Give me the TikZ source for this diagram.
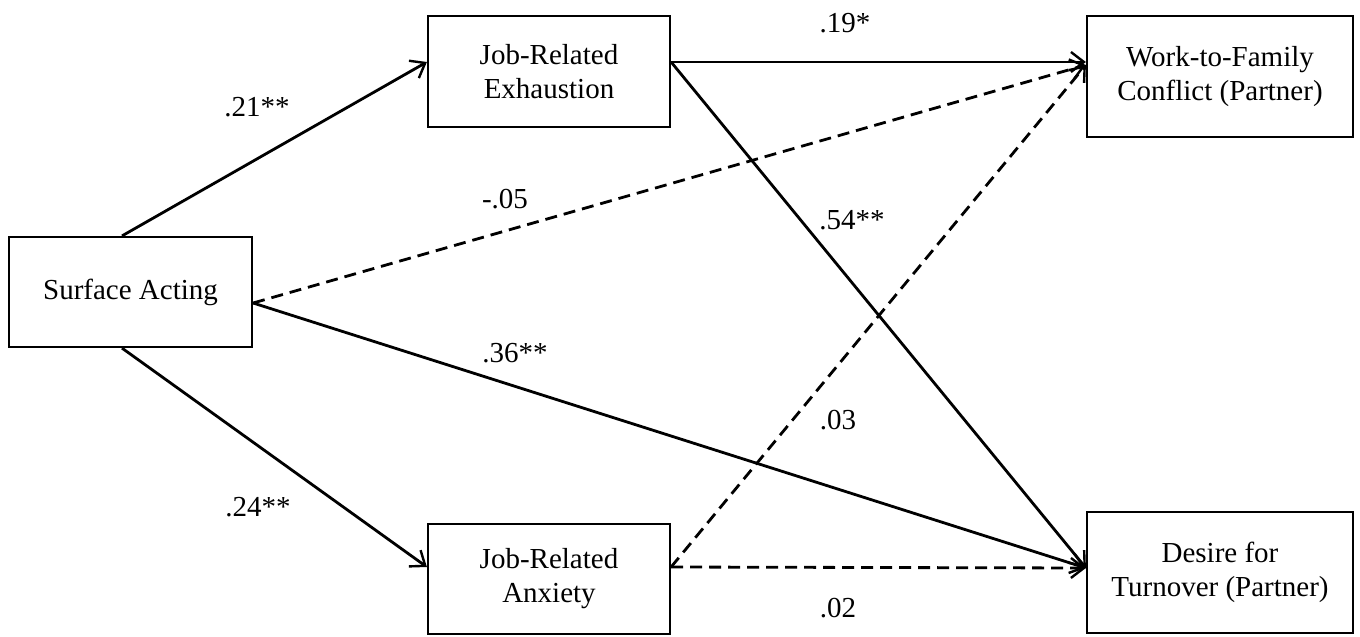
\documentclass[tikz,border=0pt]{standalone}
\usepackage{fontspec}
\setmainfont{Liberation Serif}
\usetikzlibrary{arrows.meta,calc}
\begin{document}
\begin{tikzpicture}[x=0.5pt,y=-0.5pt,
  box/.style={draw, line width=1.1pt, align=center, inner sep=0pt,
    font=\fontsize{14.5}{17}\selectfont},
  conn/.style={line width=1.4pt,
    -{Straight Barb[length=6.5pt,width=10pt,line width=1.2pt]}},
  nsconn/.style={conn, dash pattern=on 6pt off 3.5pt},
  lab/.style={inner sep=0pt, font=\fontsize{14.5}{17}\selectfont}]
\useasboundingbox (0,0) rectangle (1360,637);
% boxes
\node[box, minimum width=121.5pt, minimum height=55pt] (sa) at (130.5,292) {Surface Acting};
\node[box, minimum width=121pt, minimum height=55.5pt] (ex) at (549,71.5) {Job-Related\\Exhaustion};
\node[box, minimum width=121pt, minimum height=55pt] (an) at (549,579) {Job-Related\\Anxiety};
\node[box, minimum width=133pt, minimum height=60.5pt] (wf) at (1220,76.5) {Work-to-Family\\Conflict (Partner)};
\node[box, minimum width=133pt, minimum height=60.5pt] (dt) at (1220,572.5) {Desire for\\Turnover (Partner)};
% attachment points
\coordinate (saT) at ($(sa.north)+(-8.5,0)$);
\coordinate (saR) at ($(sa.east)+(0,11)$);
\coordinate (saB) at ($(sa.south)+(-8.5,0)$);
\coordinate (exL) at ($(ex.west)+(0,-9.5)$);
\coordinate (exR) at ($(ex.east)+(0,-9.5)$);
\coordinate (anL) at ($(an.west)+(0,-12)$);
\coordinate (anR) at ($(an.east)+(0,-12)$);
\coordinate (wfS) at ($(wf.west)+(0,-14.5)$);
\coordinate (wfD) at ($(wf.west)+(0,-11.5)$);
\coordinate (dtL) at ($(dt.west)+(0,-4.5)$);
% connectors
\draw[conn] (saT) -- (exL);
\draw[conn] (saB) -- (anL);
\draw[nsconn] (saR) -- (wfD);
\draw[conn] (saR) -- (dtL);
\draw[conn] (exR) -- (wfS);
\draw[conn] (exR) -- (dtL);
\draw[nsconn] (anR) -- (wfD);
\draw[nsconn] (anR) -- (dtL);
% labels
\node[lab] (l21) at (257,107) {.21**};
\node[lab] (l05) at (505,199) {-.05};
\node[lab] (l36) at (515,353) {.36**};
\node[lab] (l24) at (258,507) {.24**};
\node[lab] (l19) at (845,23) {.19*};
\node[lab] (l54) at (852,220) {.54**};
\node[lab] (l03) at (838,420) {.03};
\node[lab] (l02) at (838,608) {.02};
\end{tikzpicture}
\end{document}
